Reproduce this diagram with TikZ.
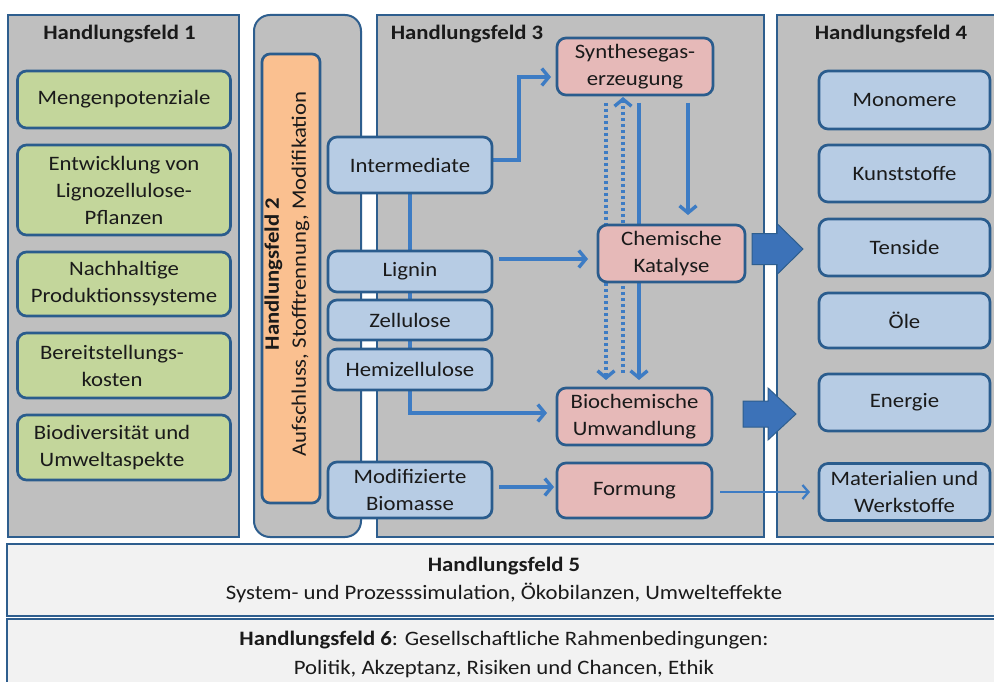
\documentclass[tikz,border=0pt]{standalone}
\usepackage{fontspec}
\setmainfont{Carlito}
\newfontfamily\widefont{Carlito}[FakeStretch=1.11]
\usetikzlibrary{arrows.meta,calc}
\pgfdeclarelayer{panel}
\pgfdeclarelayer{conn}
\pgfsetlayers{panel,conn,main}
\definecolor{pgray}{HTML}{BFBFBF}
\definecolor{pbdr}{HTML}{2E5E8E}
\definecolor{bbdr}{HTML}{2A5C8D}
\definecolor{gfill}{HTML}{C3D69B}
\definecolor{bfill}{HTML}{B7CCE4}
\definecolor{rfill}{HTML}{E6B9B8}
\definecolor{ofill}{HTML}{FAC090}
\definecolor{lfill}{HTML}{F2F2F2}
\definecolor{conncol}{HTML}{3D7CC4}
\definecolor{bigfill}{HTML}{3C72B8}
\definecolor{txt}{HTML}{1A1A1A}
\tikzset{
  panelbox/.style={draw=pbdr, fill=pgray, line width=2pt, inner sep=0pt, outer sep=0pt},
  lightbox/.style={draw=pbdr, fill=lfill, line width=2pt, inner sep=0pt, outer sep=0pt, align=center, text=txt},
  basebox/.style={draw=bbdr, line width=2.7pt, rounded corners=9pt, align=center, inner sep=0pt, outer sep=0pt, text=txt, font=\widefont\fontsize{20.5}{27}\selectfont},
  gbox/.style={basebox, fill=gfill, minimum width=213pt},
  bbox/.style={basebox, fill=bfill, minimum width=164pt},
  obox/.style={basebox, fill=bfill, minimum width=171pt},
  rbox/.style={basebox, fill=rfill},
  titletext/.style={text=txt, inner sep=0pt, font=\widefont\bfseries\fontsize{20.5}{27}\selectfont},
  conn/.style={draw=conncol, line width=3.4pt, -{Straight Barb[length=7pt,width=17pt,line width=3.4pt]}},
  thinconn/.style={draw=conncol, line width=2.3pt, -{Straight Barb[length=6pt,width=14pt,line width=2.3pt]}},
  dotconn/.style={conn, dash pattern=on 3pt off 3pt},
  bigarrow/.style={fill=bigfill, draw=pbdr, line width=1pt},
}
\begin{document}
\begin{tikzpicture}[x=1pt,y=-1pt]
\clip (0,0) rectangle (994,682);
\begin{pgfonlayer}{panel}
\fill[white] (0,0) rectangle (994,682);
\node[panelbox, minimum width=231pt, minimum height=522pt] (p1) at (123.5,276) {};
\node[panelbox, rounded corners=16pt, minimum width=107pt, minimum height=522pt] (p2) at (307.5,276) {};
\node[panelbox, minimum width=387pt, minimum height=522pt] (p3) at (570.5,276) {};
\node[panelbox, minimum width=230pt, minimum height=522pt] (p4) at (892,276) {};
\node[lightbox, minimum width=994pt, minimum height=72pt, font=\widefont\fontsize{20.5}{27.5}\selectfont] (p5) at (504,580)
  {\textbf{Handlungsfeld 5}\\System- und Prozesssimulation, Ökobilanzen, Umwelteffekte};
\node[lightbox, minimum width=994pt, minimum height=71pt, font=\widefont\fontsize{20.5}{29}\selectfont] (p6) at (504,654.5)
  {\textbf{Handlungsfeld 6}: Gesellschaftliche Rahmenbedingungen:\\Politik, Akzeptanz, Risiken und Chancen, Ethik};
\end{pgfonlayer}

\node[titletext] (t1) at (119.5,34) {Handlungsfeld 1};
\node[titletext] (t3) at (467,34) {Handlungsfeld 3};
\node[titletext] (t4) at (891,34) {Handlungsfeld 4};

% orange box
\node[basebox, fill=ofill, rounded corners=8pt, minimum width=58pt, minimum height=449pt] (hf2) at (291,278.5) {};
\node[rotate=90, align=center, text=txt, inner sep=0pt, font=\widefont\fontsize{20.5}{27}\selectfont] (hf2t) at (287,274)
  {\textbf{Handlungsfeld 2}\\Aufschluss, Stofftrennung, Modifikation};

% green boxes
\node[gbox, minimum height=57pt] (g1) at (124,99.5) {Mengenpotenziale};
\node[gbox, minimum height=90pt] (g2) at (124,190) {Entwicklung von\\Lignozellulose-\\Pflanzen};
\node[gbox, minimum height=64pt] (g3) at (124,284) {Nachhaltige\\Produktionssysteme};
\node[gbox, minimum height=65pt] (g4) at (124,365.5) {Bereitstellungs-\hspace*{24pt}\\kosten\hspace*{24pt}};
\node[gbox, minimum height=65pt] (g5) at (124,447.5) {Biodiversität und\hspace*{24pt}\\Umweltaspekte\hspace*{24pt}};

% blue boxes panel 3
\node[bbox, minimum height=56pt] (int) at (410,165) {Intermediate};
\node[bbox, minimum height=41pt] (lig) at (410,271.5) {Lignin};
\node[bbox, minimum height=40pt] (zel) at (410,320) {Zellulose};
\node[bbox, minimum height=41pt] (hem) at (410,369.5) {Hemizellulose};
\node[bbox, minimum height=56pt] (mod) at (410,490) {Modifizierte\\Biomasse};

% pink boxes
\node[rbox, minimum width=156pt, minimum height=57pt] (syn) at (635,66.5) {Synthesegas-\\erzeugung};
\node[rbox, minimum width=147pt, minimum height=57pt] (che) at (671.5,253.5) {Chemische\\Katalyse};
\node[rbox, minimum width=155pt, minimum height=57pt] (bio) at (634.5,416.5) {Biochemische\\Umwandlung};
\node[rbox, minimum width=155pt, minimum height=55pt] (form) at (634.5,490.5) {Formung};

% panel 4 boxes
\node[obox, minimum height=58pt] (mon) at (904.5,100) {Monomere};
\node[obox, minimum height=57pt] (kun) at (904.5,173.5) {Kunststoffe};
\node[obox, minimum height=57pt] (ten) at (904.5,247.5) {Tenside};
\node[obox, minimum height=55pt] (ole) at (904.5,320.5) {Öle};
\node[obox, minimum height=57pt] (ene) at (904.5,402.5) {Energie};
\node[obox, minimum height=57pt] (mat) at (904.5,492) {Materialien und\\Werkstoffe};

% connectors
\begin{pgfonlayer}{conn}
\draw[conn, shorten >=6pt] ([yshift=5pt]int.east) -- ++(27,0) |- ([yshift=-10.5pt]syn.west);
\draw[conn, shorten >=10pt] (int.south) |- ([yshift=3.5pt]bio.west);
\draw[conn, shorten <=7pt, shorten >=10pt] ([yshift=12.5pt]lig.east) -- ([yshift=12.5pt]lig.east -| che.west);
\draw[conn, shorten <=7pt, shorten >=3pt] ([yshift=3pt]mod.east) -- ([yshift=3pt]mod.east -| form.west);
\draw[thinconn, shorten <=8pt, shorten >=9pt] (form.east |- mat.west) -- (mat.west);
\draw[dotconn, shorten <=8pt, shorten >=8pt] ([xshift=-29pt]syn.south) -- ([xshift=-29pt]syn.south |- bio.north);
\draw[dotconn, shorten <=15pt, shorten >=2pt] ([xshift=-12pt]syn.south |- bio.north) -- ([xshift=-12pt]syn.south);
\draw[conn, shorten <=8pt, shorten >=8pt] ([xshift=4pt]syn.south) -- ([xshift=4pt]syn.south |- bio.north);
\draw[conn, shorten <=8pt, shorten >=10pt] ([xshift=53pt]syn.south) -- ([xshift=53pt]syn.south |- che.north);
\end{pgfonlayer}

% big block arrows
\path[bigarrow] (752,233.5) -- (777,233.5) -- (777,223.5) -- (803,249) -- (777,274.5) -- (777,264.5) -- (752,264.5) -- cycle;
\path[bigarrow] (743,401) -- (768,401) -- (768,388) -- (796,414) -- (768,440) -- (768,427) -- (743,427) -- cycle;
\end{tikzpicture}
\end{document}
